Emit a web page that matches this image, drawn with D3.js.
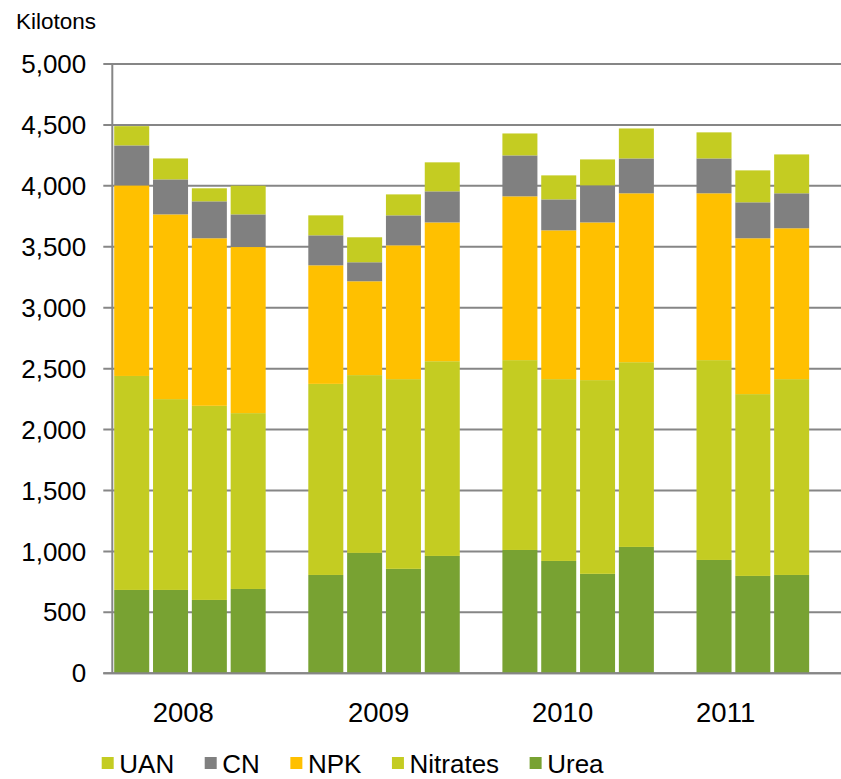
<!DOCTYPE html>
<html>
<head>
<meta charset="utf-8">
<script src="https://cdn.jsdelivr.net/npm/d3@7"></script>
<style>
    body { margin: 0; background: #fff; }
    svg { display: block; font-family: "Liberation Sans", Arial, sans-serif; }
</style>
</head>
<body>
<svg id="chart"></svg>
<script>
// slots along the category axis; the "gap" slots stay empty
const slots = ['2008a', '2008b', '2008c', '2008d', 'gap1',
    '2009a', '2009b', '2009c', '2009d', 'gap2',
    '2010a', '2010b', '2010c', '2010d', 'gap3',
    '2011a', '2011b', '2011c', 'gap4'];
const bars = ['2008a', '2008b', '2008c', '2008d',
    '2009a', '2009b', '2009c', '2009d',
    '2010a', '2010b', '2010c', '2010d',
    '2011a', '2011b', '2011c'];

const years = ['2008', '2009', '2010', '2011'];
const yearLabelPos = [1.83, 6.86, 11.6, 15.8]; // in slot steps from the axis

// series values, kilotons, stacked bottom to top
const urea     = [684, 684, 602, 692, 807, 988, 857, 963, 1012, 922, 816, 1037, 930, 799, 807];
const nitrates = [1756, 1566, 1593, 1443, 1568, 1459, 1557, 1598, 1558, 1492, 1590, 1516, 1640, 1492, 1607];
const npk      = [1564, 1516, 1375, 1363, 973, 770, 1098, 1139, 1344, 1221, 1294, 1386, 1369, 1279, 1238];
const cn       = [328, 287, 303, 268, 246, 156, 246, 255, 336, 254, 304, 286, 286, 295, 287];
const uan      = [158, 172, 107, 235, 164, 205, 172, 238, 180, 197, 213, 246, 214, 262, 319];

const seriesNames = ['Urea', 'Nitrates', 'NPK', 'CN', 'UAN'];
const legendOrder = ['UAN', 'CN', 'NPK', 'Nitrates', 'Urea'];
const yTicks = [0, 500, 1000, 1500, 2000, 2500, 3000, 3500, 4000, 4500, 5000];

const colors = {
    Urea: '#78a232',
    Nitrates: '#c4cc22',
    NPK: '#ffc000',
    CN: '#808080',
    UAN: '#c4cc22'
};
const gridColor = '#868686';

const W = 841, H = 779;
const plot = { left: 112.3, top: 64, bottom: 673.3, step: 38.82 };

const svg = d3.select('#chart').attr('width', W).attr('height', H);

// build rows for the stack
const rows = bars.map((b, i) => ({
    key: b,
    Urea: urea[i],
    Nitrates: nitrates[i],
    NPK: npk[i],
    CN: cn[i],
    UAN: uan[i]
}));
const stacked = d3.stack().keys(seriesNames)(rows);

const x = d3.scaleBand()
    .domain(slots)
    .range([plot.left, plot.left + plot.step * slots.length])
    .paddingInner(0.098)
    .paddingOuter(0.049);

const y = d3.scaleLinear()
    .domain([0, 5000])
    .range([plot.bottom, plot.top]);

// gridlines with outside ticks
svg.append('g')
    .selectAll('line')
    .data(yTicks)
    .join('line')
    .attr('x1', plot.left - 9)
    .attr('x2', plot.left + plot.step * slots.length)
    .attr('y1', d => y(d))
    .attr('y2', d => y(d))
    .attr('stroke', gridColor)
    .attr('stroke-width', 2);

// stacked bars
svg.append('g')
    .selectAll('g')
    .data(stacked)
    .join('g')
    .attr('fill', s => colors[s.key])
    .selectAll('rect')
    .data(s => s)
    .join('rect')
    .attr('x', d => x(d.data.key))
    .attr('width', x.bandwidth())
    .attr('y', d => y(d[1]))
    .attr('height', d => y(d[0]) - y(d[1]));

// axis lines on top
svg.append('line')
    .attr('x1', plot.left).attr('x2', plot.left)
    .attr('y1', y(5000)).attr('y2', y(0))
    .attr('stroke', gridColor).attr('stroke-width', 2);
svg.append('line')
    .attr('x1', plot.left - 9).attr('x2', W)
    .attr('y1', y(0)).attr('y2', y(0))
    .attr('stroke', gridColor).attr('stroke-width', 2);

// y tick labels
svg.append('g')
    .selectAll('text')
    .data(yTicks)
    .join('text')
    .attr('x', plot.left - 26)
    .attr('y', d => y(d))
    .attr('dy', '0.35em')
    .attr('text-anchor', 'end')
    .attr('font-size', 26)
    .attr('fill', '#000')
    .text(d3.format(','));

svg.append('text')
    .attr('x', 16)
    .attr('y', 28.5)
    .attr('font-size', 22.5)
    .attr('fill', '#000')
    .text('Kilotons');

// year labels
svg.append('g')
    .selectAll('text')
    .data(years)
    .join('text')
    .attr('x', (d, i) => plot.left + yearLabelPos[i] * x.step())
    .attr('y', 721.7)
    .attr('text-anchor', 'middle')
    .attr('font-size', 27.5)
    .attr('fill', '#000')
    .text(d => d);

// legend
const legend = svg.append('g').attr('transform', 'translate(101.7,0)');
let lx = 0;
legendOrder.forEach(name => {
    const item = legend.append('g').attr('transform', `translate(${lx},0)`);
    item.append('rect')
        .attr('x', 0).attr('y', 757)
        .attr('width', 12).attr('height', 12)
        .attr('fill', colors[name]);
    const t = item.append('text')
        .attr('x', 17.6)
        .attr('y', 772.7)
        .attr('font-size', 26)
        .attr('fill', '#000')
        .text(name);
    lx += 17.6 + t.node().getComputedTextLength() + 30.5;
});
</script>
</body>
</html>
